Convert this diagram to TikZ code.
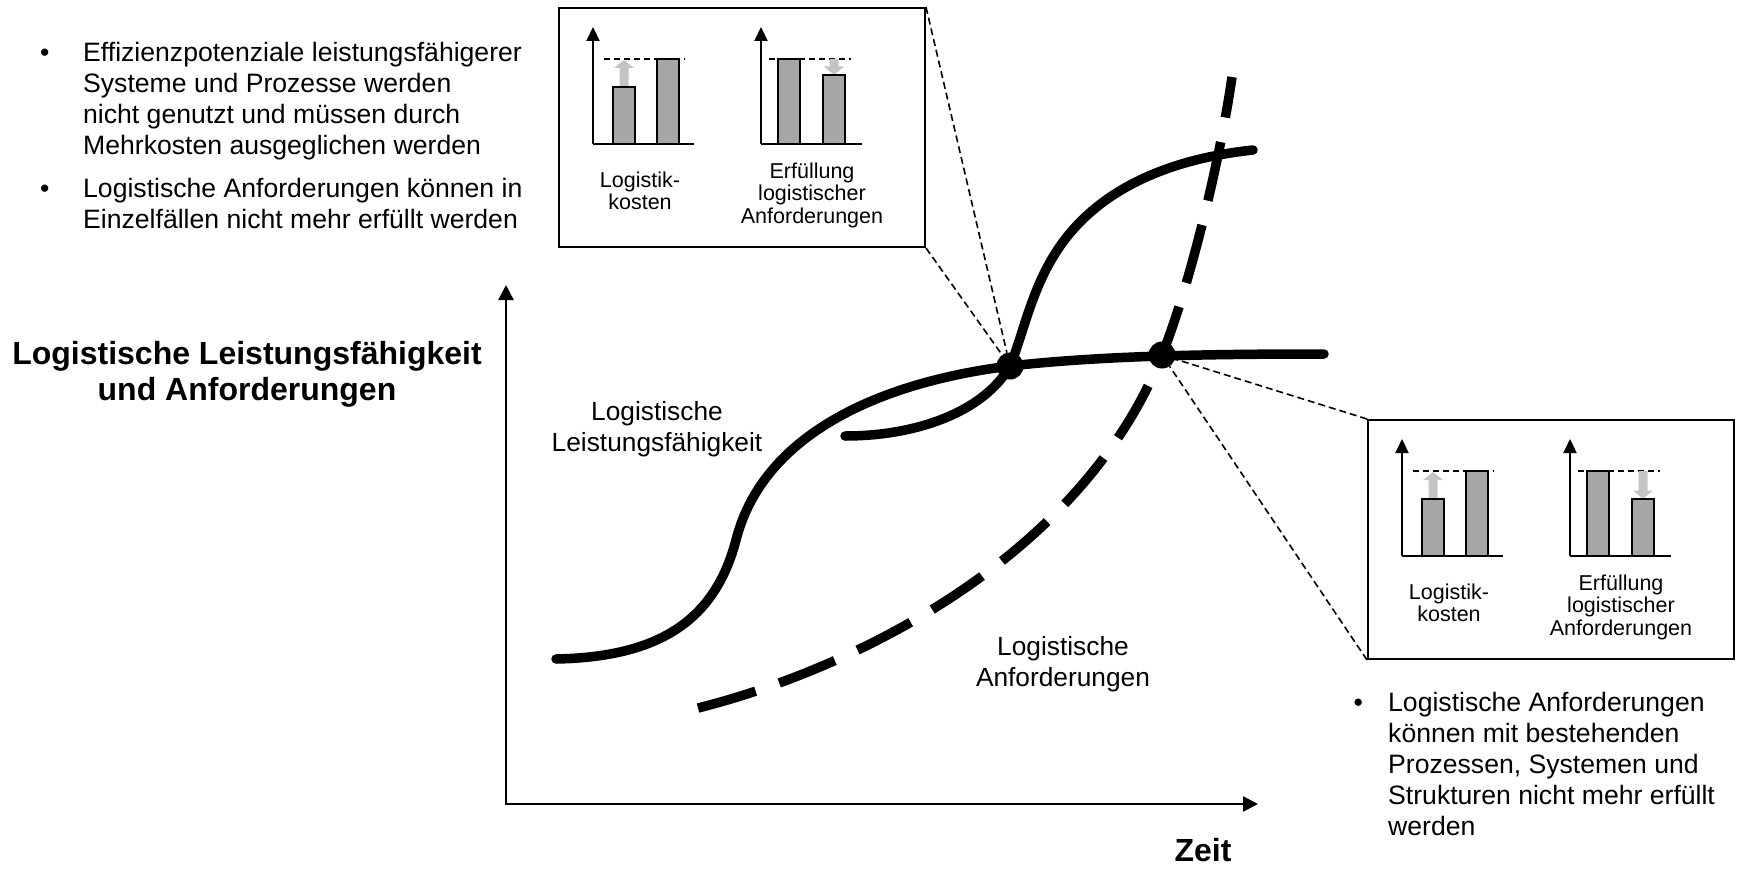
\documentclass[tikz,border=0pt]{standalone}
\usepackage{fontspec}
\setmainfont{Liberation Sans}
\usetikzlibrary{arrows.meta}
\newcommand\stackc[1]{\vtop{\lineskiplimit=-1000pt\relax\halign{\hfil##\hfil\cr#1\crcr}}}
\newcommand\stackl[1]{\vtop{\lineskiplimit=-1000pt\relax\halign{##\hfil\cr#1\crcr}}}
\newcommand\bul[1]{\hbox to #1pt{\textbullet\hfil}}
\newcommand\ind[1]{\hbox to #1pt{\hfil}}
\definecolor{barfill}{HTML}{A6A6A6}
\definecolor{garrcol}{HTML}{C4C4C4}
\tikzset{
  txt/.style={font=\fontsize{26.6}{31}\selectfont, inner sep=0pt},
  lbl/.style={font=\fontsize{26.3}{31.5}\selectfont, inner sep=0pt},
  ttl/.style={font=\fontsize{32}{36}\selectfont\bfseries, inner sep=0pt},
  ilab/.style={font=\fontsize{21.5}{22.5}\selectfont, inner sep=0pt, anchor=base},
  axisline/.style={line width=2.5pt},
  curve/.style={line width=9.5pt, line cap=round},
  dcurve/.style={line width=9.5pt, dash pattern=on 60pt off 25pt},
  dot/.style={circle, fill=black, minimum size=27pt, inner sep=0pt},
  conn/.style={line width=1.6pt, dash pattern=on 7pt off 4pt},
  refline/.style={line width=1.5pt, dash pattern=on 6pt off 4pt},
  bar/.style={draw=black, fill=barfill, line width=1.8pt},
  iaxis/.style={line width=2.2pt},
  garr/.style={fill=garrcol},
  pics/inset/.style={code={
    \node[draw, line width=2pt, minimum width=366pt, minimum height=239pt, anchor=north west, inner sep=0pt] (-box) at (0,0) {};
    \draw[refline] (46,52) -- (127,52);
    \draw[refline] (211,52) -- (293,52);
    \fill[garr] (61.5,80) -- (61.5,61) -- (56,61) -- (66,53) -- (76,61) -- (70.5,61) -- (70.5,80) -- cycle;
    \fill[garr] (271.5,52) -- (271.5,#1-8.5) -- (266,#1-8.5) -- (276,#1) -- (286,#1-8.5) -- (280.5,#1-8.5) -- (280.5,52) -- cycle;
    \draw[bar] (55,137) rectangle (77,80);
    \draw[bar] (99,137) rectangle (121,52);
    \draw[bar] (220,137) rectangle (242,52);
    \draw[bar] (265,137) rectangle (287,#1);
    \draw[iaxis] (35,137) -- (136,137);
    \draw[iaxis,-{Triangle[length=14pt,width=13pt]}] (35,137) -- (35,20);
    \draw[iaxis] (203,137) -- (304,137);
    \draw[iaxis,-{Triangle[length=14pt,width=13pt]}] (203,137) -- (203,20);
    \node[ilab] (-cost) at (82,180) {\stackc{Logistik-\cr kosten}};
    \node[ilab] (-req) at (254,171) {\stackc{Erfüllung\cr logistischer\cr Anforderungen}};
  }}
}
\begin{document}
\begin{tikzpicture}[x=1pt,y=-1pt]
\useasboundingbox (0,0) rectangle (1737,872);
% axes
\coordinate (O) at (506,804);
\coordinate (Ytop) at (506,285);
\coordinate (Xend) at (1258,804);
\draw[axisline, {Triangle[length=15pt,width=15pt]}-{Triangle[length=15pt,width=15pt]}] (Ytop) -- (O) -- (Xend);
% curves
\draw[curve] (556,659) .. controls (660,657) and (715,620) .. (736,540)
  .. controls (760,445) and (860,385) .. (1010,366)
  .. controls (1100,356) and (1200,354) .. (1324,354);
\draw[curve] (845,436) .. controls (920,436) and (985,410) .. (1010,366)
  .. controls (1022,338) and (1030,295) .. (1053,257)
  .. controls (1090,195) and (1160,160) .. (1253,150);
\draw[dcurve] (698,708) .. controls (850,670) and (1080,560) .. (1162,355)
  .. controls (1190,285) and (1220,160) .. (1232,77);
% intersection dots
\node[dot] (d1) at (1010,366) {};
\node[dot] (d2) at (1162,355) {};
% insets
\pic (tb) at (558,7) {inset=68};
\pic (rb) at (1367,419) {inset=80};
\draw[conn] (tb-box.north east) -- (d1);
\draw[conn] (tb-box.south east) -- (d1);
\draw[conn] (rb-box.north west) -- (d2);
\draw[conn] (rb-box.south west) -- (d2);
% texts
\node[txt, anchor=base west] (bl) at (40,62) {\stackl{\bul{43}Effizienzpotenziale leistungsfähigerer\cr \ind{43}Systeme und Prozesse werden\cr \ind{43}nicht genutzt und müssen durch\cr \ind{43}Mehrkosten ausgeglichen werden\cr \noalign{\vskip12pt} \bul{43}Logistische Anforderungen können in\cr \ind{43}Einzelfällen nicht mehr erfüllt werden}};
\node[txt, anchor=base west] (br) at (1353.5,711) {\stackl{\bul{34.5}Logistische Anforderungen\cr \ind{34.5}können mit bestehenden\cr \ind{34.5}Prozessen, Systemen und\cr \ind{34.5}Strukturen nicht mehr erfüllt\cr \ind{34.5}werden}};
\node[ttl, anchor=base] (ylab) at (247,364) {\stackc{Logistische Leistungsfähigkeit\cr und Anforderungen}};
\node[ttl, anchor=base] (xlab) at (1203,861) {Zeit};
\node[lbl, anchor=base] (lcap) at (657,420) {\stackc{Logistische\cr Leistungsfähigkeit}};
\node[lbl, anchor=base] (lreq) at (1063,655) {\stackc{Logistische\cr Anforderungen}};
\end{tikzpicture}
\end{document}
